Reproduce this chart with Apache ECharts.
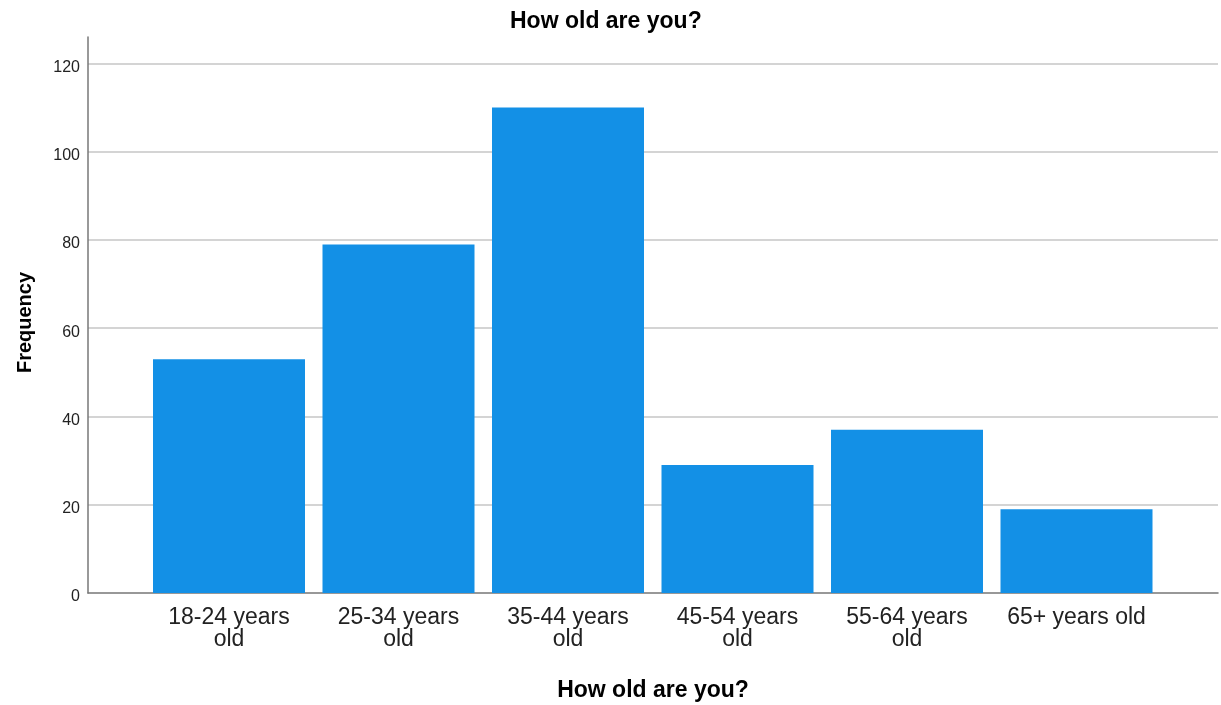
<!DOCTYPE html>
<html>
<head>
<meta charset="utf-8">
<script src="https://cdn.jsdelivr.net/npm/echarts@6/dist/echarts.min.js"></script>
<style>html,body{margin:0;padding:0;background:#fff}#c{width:1221px;height:705px}</style>
</head>
<body>
<div id="c"></div>
<script>
const categories = ['18-24 years\nold', '25-34 years\nold', '35-44 years\nold', '45-54 years\nold', '55-64 years\nold', '65+ years old'];
const frequency = [53, 79, 110, 29, 37, 19];
const yTicks = [0, 20, 40, 60, 80, 100, 120];

const FONT = '"Liberation Sans", Arial, sans-serif';
const chart = echarts.init(document.getElementById('c'), null, {renderer: 'canvas'});
chart.setOption({
  animation: false,
  backgroundColor: '#fff',
  title: {
    text: 'How old are you?', left: 505, top: 5,
    textStyle: {fontFamily: FONT, fontSize: 23, fontWeight: 'bold', color: '#000'}
  },
  grid: [
    {left: 88, right: 3, top: 37, bottom: 112, outerBoundsMode: 'none', containLabel: false},
    {left: 144.25, right: 59.75, top: 37, bottom: 112, outerBoundsMode: 'none', containLabel: false}
  ],
  xAxis: [
    {
      gridIndex: 0, type: 'value', min: 0, max: 1,
      axisLine: {show: true, lineStyle: {color: '#777', width: 1.5}},
      axisTick: {show: false}, axisLabel: {show: false}, splitLine: {show: false},
      name: 'How old are you?', nameLocation: 'middle', nameGap: 86,
      nameTextStyle: {fontFamily: FONT, fontSize: 23, fontWeight: 'bold', color: '#000'}
    },
    {
      gridIndex: 1, type: 'category', data: categories,
      axisLine: {show: false}, axisTick: {show: false},
      axisLabel: {fontFamily: FONT, fontSize: 23, color: '#222', margin: 14, lineHeight: 22, interval: 0}
    }
  ],
  yAxis: [
    {
      gridIndex: 0, type: 'value', min: 0, max: 126, interval: 20,
      axisLine: {show: true, lineStyle: {color: '#777', width: 1.5}},
      axisTick: {show: false},
      axisLabel: {
        fontFamily: FONT, fontSize: 16, color: '#222', margin: 8, showMaxLabel: false,
        verticalAlign: 'top', lineHeight: 8,
        formatter: v => (yTicks.indexOf(v) >= 0 ? String(v) : '')
      },
      splitLine: {show: true, showMinLine: false, showMaxLine: false, lineStyle: {color: '#d4d4d4', width: 2}},
      name: 'Frequency', nameLocation: 'middle', nameGap: 53, nameRotate: 90,
      nameTextStyle: {fontFamily: FONT, fontSize: 20, fontWeight: 'bold', color: '#000', padding: [0, 15, 0, 0]}
    },
    {
      gridIndex: 1, type: 'value', min: 0, max: 126, show: false
    }
  ],
  series: [{
    type: 'bar', xAxisIndex: 1, yAxisIndex: 1, data: frequency, barWidth: 152,
    itemStyle: {color: '#1390e6'}
  }]
});
</script>
</body>
</html>
